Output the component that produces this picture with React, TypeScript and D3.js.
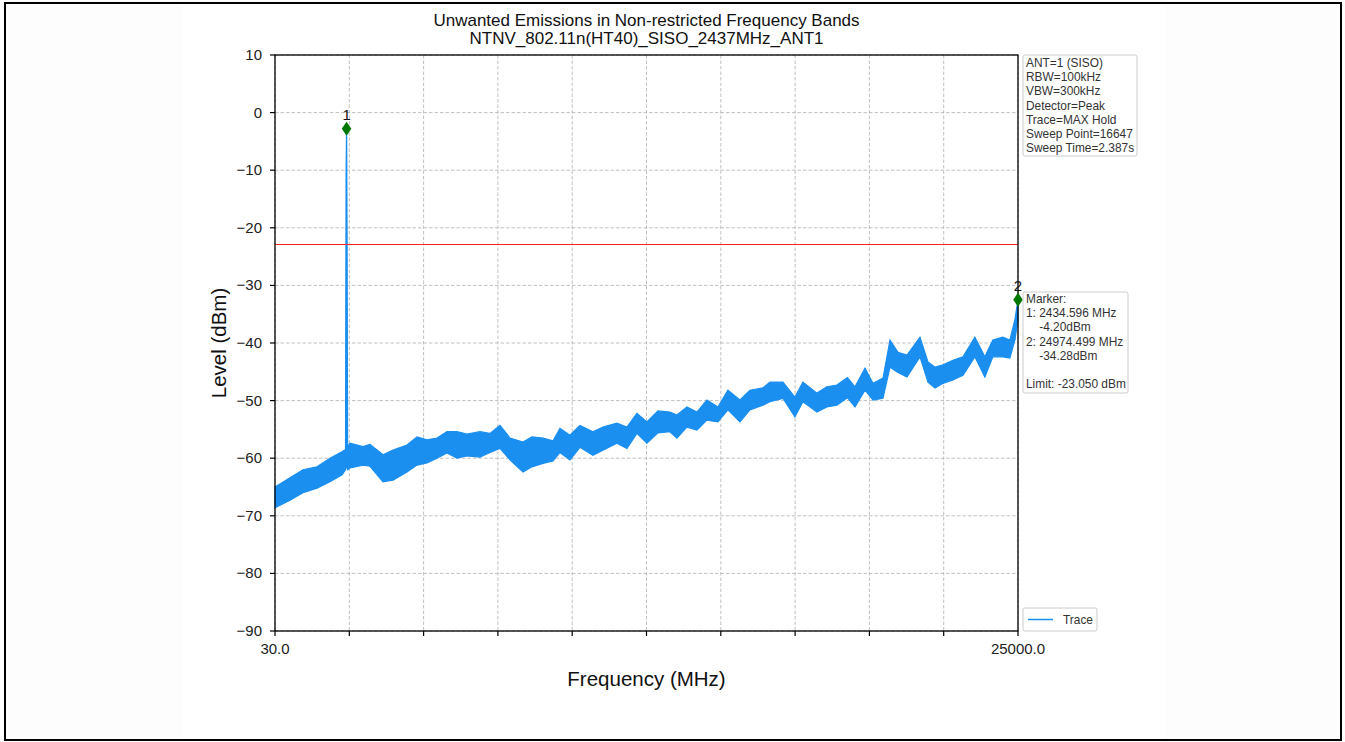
import React from "react";
import * as d3 from "d3";

const titleLines = [
  "Unwanted Emissions in Non-restricted Frequency Bands",
  "NTNV_802.11n(HT40)_SISO_2437MHz_ANT1",
];
const xDomain = [30, 25000];
const yDomain = [-90, 10];
const xTickValues = [30, 2527, 5024, 7521, 10018, 12515, 15012, 17509, 20006, 22503, 25000];
const xTickLabels = ["30.0", "", "", "", "", "", "", "", "", "", "25000.0"];
const yTickValues = [-90, -80, -70, -60, -50, -40, -30, -20, -10, 0, 10];

// trace envelope: frequency (MHz), upper / lower level (dBm)
const traceFreq = [
  30, 534, 971, 1441, 1878, 2282, 2400, 2420, 2435, 2450, 2470, 2550, 2987, 3223, 3660, 3995,
  4466, 4802, 5138, 5474, 5810, 6146, 6482, 6919, 7255, 7591, 7927, 8364, 8667, 9036, 9372,
  9606, 9942, 10278, 10715, 11051, 11521, 11857, 12193, 12529, 12900, 13302, 13537, 13873,
  14209, 14545, 14915, 15251, 15654, 15990, 16427, 16663, 17100, 17503, 17772, 18242, 18578,
  18914, 19266, 19522, 19858, 20127, 20463, 20698, 20967, 21269, 21706, 21975, 22211, 22479,
  22815, 23151, 23550, 23886, 24155, 24491, 24726, 24894, 25000,
];
const traceUpper = [
  -65.0, -63.4, -62.0, -61.5, -60.0, -58.9, -58.5, -10.0, -2.8, -20.0, -58.0, -57.4, -58.0, -57.6, -59.4, -58.6,
  -57.7, -56.3, -56.8, -56.5, -55.4, -55.4, -55.8, -55.4, -55.7, -54.3, -56.5, -57.2, -56.3, -56.5, -57.0,
  -54.8, -56.0, -54.3, -55.4, -54.6, -53.9, -54.6, -52.2, -53.7, -51.8, -52.0, -52.5, -51.1,
  -52.0, -49.9, -51.1, -48.2, -49.9, -48.2, -47.8, -46.8, -46.8, -49.4, -46.8, -48.7, -47.6,
  -47.3, -46.0, -47.6, -44.4, -47.0, -46.1, -39.5, -41.6, -42.1, -39.0, -43.3, -44.2, -43.8,
  -43.0, -42.4, -39.0, -42.4, -39.5, -39.0, -39.5, -36.0, -32.5,
];
const traceLower = [
  -68.6, -67.3, -66.0, -65.2, -64.1, -62.9, -62.0, -61.5, -61.0, -61.5, -62.0, -61.7, -61.2, -61.4, -64.1, -63.8,
  -62.4, -61.2, -60.8, -60.0, -59.1, -60.0, -59.6, -59.8, -59.0, -58.3, -60.3, -62.4, -61.5, -60.9, -60.5,
  -59.0, -60.3, -58.1, -59.5, -58.6, -57.4, -58.3, -55.7, -57.4, -55.6, -55.4, -56.5, -54.6,
  -55.1, -53.4, -53.7, -51.6, -53.7, -51.6, -50.8, -50.2, -49.6, -52.8, -50.2, -52.0, -51.1,
  -50.8, -49.5, -51.1, -48.2, -49.9, -49.6, -44.2, -45.1, -45.9, -42.4, -46.8, -47.8, -47.0,
  -46.4, -45.6, -42.4, -45.9, -42.4, -42.4, -42.6, -39.5, -36.0,
];

const limitLevel = -23.05;
const markerIds = ["1", "2"];
const markerFreq = [2435, 25000];
const markerLevel = [-2.8, -32.5];

const settingsLines = [
  "ANT=1 (SISO)",
  "RBW=100kHz",
  "VBW=300kHz",
  "Detector=Peak",
  "Trace=MAX Hold",
  "Sweep Point=16647",
  "Sweep Time=2.387s",
];
const markerInfoLines = [
  "Marker:",
  "1: 2434.596 MHz",
  "    -4.20dBm",
  "2: 24974.499 MHz",
  "    -34.28dBm",
  "",
  "Limit: -23.050 dBm",
];
const legendLabel = "Trace";

const FONT = "'Liberation Sans', Arial, Helvetica, sans-serif";
const TRACE = "#1a8ff0";

export default function App() {
  const W = 1345, H = 742;
  const L = 275, R = 1018, T = 55, B = 631;
  const x = d3.scaleLinear().domain(xDomain).range([L, R]);
  const y = d3.scaleLinear().domain(yDomain).range([B, T]);

  const pts = traceFreq.map((f, i) => ({ f, u: traceUpper[i], l: traceLower[i] }));
  const area = d3
    .area<any>()
    .x((d) => x(d.f))
    .y0((d) => y(d.l))
    .y1((d) => y(d.u))
    .curve(d3.curveLinear)(pts) as string;
  const zig = d3
    .line<any>()
    .x((d) => x(d.f))
    .y((d, i) => (i % 2 === 0 ? y(d.u) : y(d.l)))(pts) as string;

  const diamond = (cx: number, cy: number) =>
    `M${cx},${cy - 7} L${cx + 4.8},${cy} L${cx},${cy + 7} L${cx - 4.8},${cy} Z`;

  const boxLine = 14.2;
  const limitY = Math.round(y(limitLevel)) - 0.5;

  return (
    <svg
      width={W}
      height={H}
      style={{ position: "absolute", left: 0, top: 0, background: "#fff" }}
      fontFamily={FONT}
    >
      <rect x={0} y={0} width={W} height={H} fill="#fdfdfd" />
      <rect x={182} y={3} width={983} height={737} fill="#ffffff" />
      <rect x={5} y={3} width={1336} height={737} fill="none" stroke="#000" strokeWidth={2} />

      {titleLines.map((t, i) => (
        <text key={t} x={(L + R) / 2} y={26 + i * 17.5} textAnchor="middle" fontSize={17} fill="#111">
          {t}
        </text>
      ))}

      {/* grid */}
      {xTickValues.map((v) => (
        <line key={"gx" + v} x1={x(v)} x2={x(v)} y1={T} y2={B} stroke="#b0b0b0" strokeWidth={0.8} strokeDasharray="3.5,2" />
      ))}
      {yTickValues.map((v) => (
        <line key={"gy" + v} x1={L} x2={R} y1={y(v)} y2={y(v)} stroke="#b0b0b0" strokeWidth={0.8} strokeDasharray="3.5,2" />
      ))}

      {/* trace */}
      <path d={area} fill={TRACE} stroke={TRACE} strokeWidth={1.2} strokeLinejoin="miter" />
      <path d={zig} fill="none" stroke={TRACE} strokeWidth={0.8} />

      {/* limit */}
      <line x1={L} x2={R} y1={limitY} y2={limitY} stroke="#ff2020" strokeWidth={1} shapeRendering="crispEdges" />

      {/* spines */}
      <rect x={L} y={T} width={R - L} height={B - T} fill="none" stroke="#000" strokeWidth={1.3} />

      {/* ticks */}
      {yTickValues.map((v) => (
        <g key={"ty" + v}>
          <line x1={L - 5} x2={L} y1={y(v)} y2={y(v)} stroke="#000" strokeWidth={1.2} />
          <text x={L - 13} y={y(v) + 5} textAnchor="end" fontSize={15} fill="#222">
            {v < 0 ? "\u2212" + Math.abs(v) : String(v)}
          </text>
        </g>
      ))}
      {xTickValues.map((v, i) => (
        <g key={"tx" + v}>
          <line x1={x(v)} x2={x(v)} y1={B} y2={B + 5} stroke="#000" strokeWidth={1.2} />
          {xTickLabels[i] && (
            <text x={x(v)} y={B + 23} textAnchor="middle" fontSize={15} fill="#222">
              {xTickLabels[i]}
            </text>
          )}
        </g>
      ))}

      <text x={(L + R) / 2} y={686} textAnchor="middle" fontSize={20.5} fill="#111">
        Frequency (MHz)
      </text>
      <text
        transform={`translate(226,${(T + B) / 2}) rotate(-90)`}
        textAnchor="middle"
        fontSize={20.5}
        fill="#111"
      >
        Level (dBm)
      </text>

      {/* markers */}
      {markerIds.map((id, i) => (
        <g key={"m" + id}>
          <path d={diamond(x(markerFreq[i]), y(markerLevel[i]))} fill="#007800" />
          <text x={x(markerFreq[i])} y={y(markerLevel[i]) - 9} textAnchor="middle" fontSize={15} fill="#111">
            {id}
          </text>
        </g>
      ))}

      {/* settings box */}
      <rect x={1023} y={55} width={114} height={101} rx={2} fill="#fff" fillOpacity={0.85} stroke="#cccccc" strokeWidth={1} />
      {settingsLines.map((t, i) => (
        <text key={"s" + i} x={1026} y={67 + i * boxLine} fontSize={11.9} fill="#333" style={{ whiteSpace: "pre" }}>
          {t}
        </text>
      ))}

      {/* marker info box */}
      <rect x={1023} y={292} width={105} height={101} rx={2} fill="#fff" fillOpacity={0.85} stroke="#cccccc" strokeWidth={1} />
      {markerInfoLines.map((t, i) => (
        <text key={"mi" + i} x={1026} y={303 + i * boxLine} fontSize={11.9} fill="#333" style={{ whiteSpace: "pre" }}>
          {t}
        </text>
      ))}

      {/* legend */}
      <rect x={1023} y={608} width={74} height={23} rx={2} fill="#fff" fillOpacity={0.85} stroke="#cccccc" strokeWidth={1} />
      <line x1={1028} x2={1053} y1={619.5} y2={619.5} stroke={TRACE} strokeWidth={1.5} />
      <text x={1063} y={623.5} fontSize={11.9} fill="#333">
        {legendLabel}
      </text>
    </svg>
  );
}
